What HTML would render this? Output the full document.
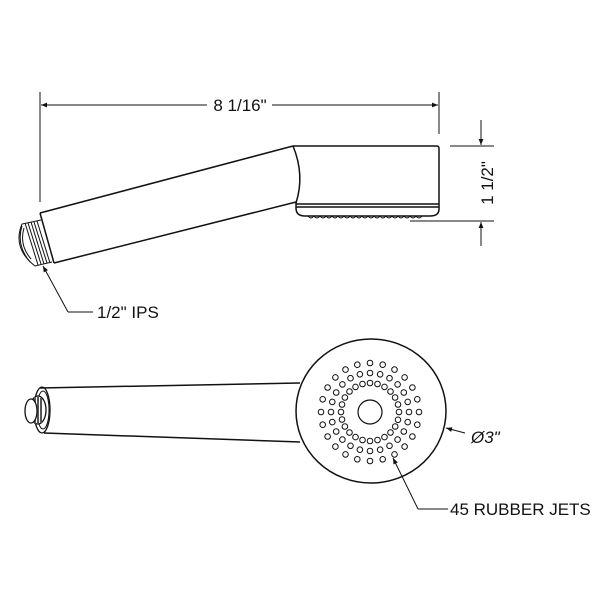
<!DOCTYPE html>
<html><head><style>
html,body{margin:0;padding:0;background:#fff;}
svg{display:block;}
text{font-family:"Liberation Sans",sans-serif;fill:#111;}
</style></head><body>
<svg width="600" height="600" viewBox="0 0 600 600" xmlns="http://www.w3.org/2000/svg">
<defs>
<marker id="ar" viewBox="0 0 10 10" refX="10" refY="5" markerWidth="9" markerHeight="6" orient="auto-start-reverse" markerUnits="userSpaceOnUse">
<path d="M0,1 L10,5 L0,9 z" fill="#111"/>
</marker>
</defs>
<g stroke="#111" fill="none" stroke-width="1">
<line x1="40" y1="92" x2="40" y2="202"/>
<line x1="439" y1="92" x2="439" y2="134"/>
<line x1="41" y1="105" x2="207" y2="105" marker-start="url(#ar)"/>
<line x1="272" y1="105" x2="438" y2="105" marker-end="url(#ar)"/>
<line x1="450" y1="146" x2="494" y2="146"/>
<line x1="410" y1="221" x2="494" y2="221"/>
<line x1="481" y1="120" x2="481" y2="145" marker-end="url(#ar)"/>
<line x1="481" y1="246" x2="481" y2="222" marker-end="url(#ar)"/>
<g stroke-width="1.5">
<line x1="40" y1="213" x2="293" y2="146"/>
<line x1="54" y1="263" x2="296" y2="202"/>
<line x1="40" y1="213" x2="54" y2="263"/>
<path d="M293,146 Q305,175 296,203"/>
<path d="M293,146 H437 Q439,146 439,149 V209 Q439,216 430,216 H305 Q296,216 296,208 V202"/>
<line x1="296" y1="204" x2="439" y2="204"/>
<line x1="296" y1="207" x2="439" y2="207"/>
</g>
<path d="M308,216 q3,4 6,0 q3,4 6,0 q3,4 6,0 q3,4 6,0 q3,4 6,0 q3,4 6,0 q3,4 6,0 q3,4 6,0 q3,4 6,0 q3,4 6,0 q3,4 6,0 q3,4 6,0 q3,4 6,0 q3,4 6,0 q3,4 6,0 q3,4 6,0 q3,4 6,0 q3,4 6,0 q3,4 6,0" stroke-width="0.9"/>
<g stroke-width="1">
<path d="M41,220 L22,224 Q12,248 35,266 L52,262"/>
<line x1="25" y1="223" x2="38" y2="265"/>
<line x1="28" y1="223" x2="41" y2="264"/>
<line x1="31" y1="222" x2="44" y2="264"/>
<line x1="34" y1="222" x2="47" y2="263"/>
<line x1="37" y1="221" x2="50" y2="263"/>
<path d="M22,226 Q16,245 30,262" />
<path d="M24,228 Q19,245 31,259" />
</g>
<polyline points="68,312 93,312" />
<line x1="68" y1="312" x2="43" y2="266" marker-end="url(#ar)"/>
<g stroke-width="1.5">
<line x1="40" y1="388" x2="300" y2="383"/>
<line x1="44" y1="433" x2="300" y2="442"/>
<ellipse cx="371" cy="411" rx="75" ry="72" fill="#fff"/>
</g>
<ellipse cx="42" cy="410" rx="8" ry="23" stroke-width="1.3"/>
<ellipse cx="43" cy="410" rx="6" ry="19"/>
<ellipse cx="38" cy="410" rx="8" ry="14" stroke-width="1.3" fill="#fff"/>
<line x1="35" y1="397" x2="35" y2="424" stroke-width="2" stroke="#555"/>
<line x1="38" y1="397" x2="38" y2="424" stroke-width="2" stroke="#555"/>
<line x1="41" y1="398" x2="41" y2="423" stroke-width="2" stroke="#555"/>
<ellipse cx="31" cy="411" rx="6" ry="12" stroke-width="1.3" fill="#fff"/>
<circle cx="370" cy="412" r="12" stroke-width="1.2"/>
<line x1="465" y1="433" x2="446" y2="428" marker-end="url(#ar)"/>
<polyline points="448,509 418,509"/>
<line x1="418" y1="509" x2="393" y2="458" marker-end="url(#ar)"/>
</g>
<g stroke="#111" fill="none" stroke-width="1">
<circle cx="399" cy="412" r="2.8"/><circle cx="398.0" cy="419.8" r="2.8"/><circle cx="395.2" cy="426.5" r="2.8"/><circle cx="390.5" cy="432.5" r="2.8"/><circle cx="384.5" cy="437.1" r="2.8"/><circle cx="377.5" cy="440.0" r="2.8"/><circle cx="370" cy="441" r="2.8"/><circle cx="362.5" cy="440.0" r="2.8"/><circle cx="355.5" cy="437.1" r="2.8"/><circle cx="349.5" cy="432.5" r="2.8"/><circle cx="344.9" cy="426.5" r="2.8"/><circle cx="342.0" cy="419.5" r="2.8"/><circle cx="341" cy="412" r="2.8"/><circle cx="342.0" cy="404.5" r="2.8"/><circle cx="344.9" cy="397.5" r="2.8"/><circle cx="349.5" cy="391.5" r="2.8"/><circle cx="355.5" cy="386.9" r="2.8"/><circle cx="362.5" cy="384.0" r="2.8"/><circle cx="370" cy="383" r="2.8"/><circle cx="377.5" cy="384.0" r="2.8"/><circle cx="384.5" cy="386.9" r="2.8"/><circle cx="390.5" cy="391.5" r="2.8"/><circle cx="395.1" cy="397.5" r="2.8"/><circle cx="398.0" cy="404.5" r="2.8"/>
<circle cx="409" cy="412" r="2.8"/><circle cx="407.7" cy="422.1" r="2.8"/><circle cx="403.8" cy="431.5" r="2.8"/><circle cx="397.6" cy="439.6" r="2.8"/><circle cx="389.5" cy="445.8" r="2.8"/><circle cx="380.1" cy="449.7" r="2.8"/><circle cx="370" cy="451" r="2.8"/><circle cx="359.9" cy="449.7" r="2.8"/><circle cx="350.5" cy="445.8" r="2.8"/><circle cx="342.4" cy="439.6" r="2.8"/><circle cx="336.2" cy="431.5" r="2.8"/><circle cx="332.3" cy="422.1" r="2.8"/><circle cx="331" cy="412" r="2.8"/><circle cx="332.3" cy="401.9" r="2.8"/><circle cx="336.2" cy="392.5" r="2.8"/><circle cx="342.4" cy="384.4" r="2.8"/><circle cx="350.5" cy="378.2" r="2.8"/><circle cx="359.9" cy="374.3" r="2.8"/><circle cx="370" cy="373" r="2.8"/><circle cx="380.1" cy="374.3" r="2.8"/><circle cx="389.5" cy="378.2" r="2.8"/><circle cx="397.6" cy="384.4" r="2.8"/><circle cx="403.8" cy="392.5" r="2.8"/><circle cx="407.7" cy="401.9" r="2.8"/>
<circle cx="419" cy="412" r="2.8"/><circle cx="417.3" cy="424.7" r="2.8"/><circle cx="412.4" cy="436.5" r="2.8"/><circle cx="404.6" cy="446.6" r="2.8"/><circle cx="394.5" cy="454.4" r="2.8"/><circle cx="382.7" cy="459.3" r="2.8"/><circle cx="370" cy="461" r="2.8"/><circle cx="357.3" cy="459.3" r="2.8"/><circle cx="345.5" cy="454.4" r="2.8"/><circle cx="335.4" cy="446.6" r="2.8"/><circle cx="327.6" cy="436.5" r="2.8"/><circle cx="322.7" cy="424.7" r="2.8"/><circle cx="321" cy="412" r="2.8"/><circle cx="322.7" cy="399.3" r="2.8"/><circle cx="327.6" cy="387.5" r="2.8"/><circle cx="335.4" cy="377.4" r="2.8"/><circle cx="345.5" cy="369.6" r="2.8"/><circle cx="357.3" cy="364.7" r="2.8"/><circle cx="370" cy="363" r="2.8"/><circle cx="382.7" cy="364.7" r="2.8"/><circle cx="394.5" cy="369.6" r="2.8"/><circle cx="404.6" cy="377.4" r="2.8"/><circle cx="412.4" cy="387.5" r="2.8"/><circle cx="417.3" cy="399.3" r="2.8"/>
</g>
<text x="240" y="111" font-size="17" text-anchor="middle">8 1/16"</text>
<text transform="translate(493,183) rotate(-90)" font-size="17" text-anchor="middle">1 1/2"</text>
<text x="97" y="318" font-size="17">1/2" IPS</text>
<text x="471" y="443" font-size="17" font-style="italic">Ø3"</text>
<text x="450" y="515" font-size="17">45 RUBBER JETS</text>
</svg>
</body></html>
